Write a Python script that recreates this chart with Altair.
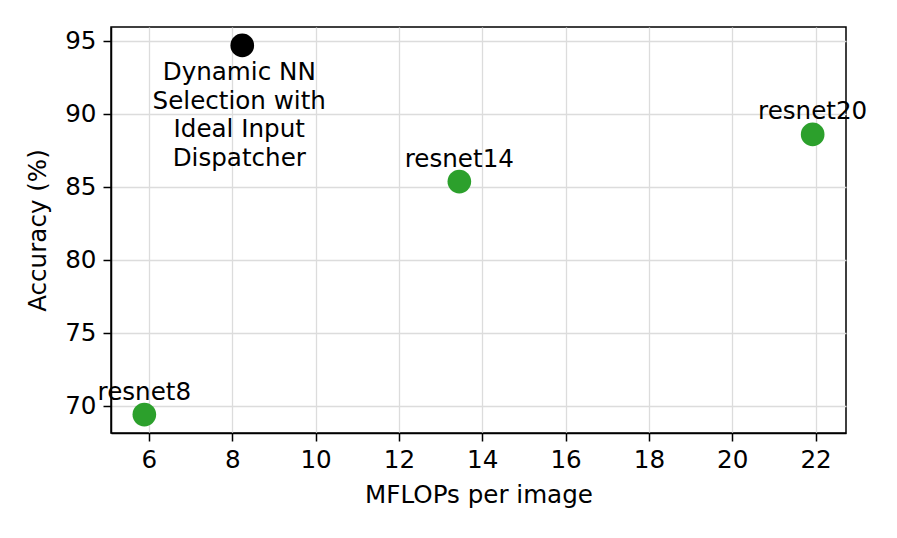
import altair as alt
import pandas as pd

names = ["resnet8", "resnet14", "resnet20", "Dynamic NN\nSelection with\nIdeal Input\nDispatcher"]
groups = ["resnet", "resnet", "resnet", "dynamic"]
mflops = [5.89, 13.45, 21.93, 8.24]
accuracy = [69.43, 85.38, 88.61, 94.70]
x_ticks = [6, 8, 10, 12, 14, 16, 18, 20, 22]
y_ticks = [70, 75, 80, 85, 90, 95]

df = pd.DataFrame({"name": names, "group": groups, "mflops": mflops, "acc": accuracy})

FONT = "DejaVu Sans"
FS = 24.6

x = alt.X("mflops:Q", scale=alt.Scale(domain=[5.09, 22.73], nice=False, zero=False),
          axis=alt.Axis(values=x_ticks, title="MFLOPs per image", format="d"))
y = alt.Y("acc:Q", scale=alt.Scale(domain=[68.17, 95.96], nice=False, zero=False),
          axis=alt.Axis(values=y_ticks, title="Accuracy (%)", format="d"))

base = alt.Chart(df).encode(x=x, y=y)

points = base.mark_point(filled=True, opacity=1, size=560, shape="circle").encode(
    color=alt.Color("group:N", scale=alt.Scale(domain=["resnet", "dynamic"], range=["#2ca02c", "#000000"]), legend=None)
)

res_labels = base.transform_filter(alt.datum.group == "resnet").mark_text(
    font=FONT, fontSize=FS, baseline="alphabetic", align="center", dy=-15, color="black"
).encode(text="name:N")

dyn_label = base.transform_filter(alt.datum.group == "dynamic").mark_text(
    font=FONT, fontSize=FS, baseline="top", align="center", dy=16, dx=-3, lineBreak="\n", lineHeight=28.5, color="black"
).encode(text="name:N")

chart = alt.layer(points, res_labels, dyn_label).properties(
    width=735, height=406,
    autosize=alt.AutoSizeParams(type="none"),
    padding={"left": 103, "top": 19, "right": 30, "bottom": 80},
).configure_view(
    stroke="black", strokeWidth=1.5
).configure_axis(
    grid=True, gridColor="#dcdcdc", gridWidth=1.3,
    domain=True, domainColor="black", domainWidth=1.5,
    ticks=True, tickColor="black", tickWidth=1.5, tickSize=8,
    labelFont=FONT, labelFontSize=FS, labelColor="black", labelPadding=7,
    titleFont=FONT, titleFontSize=FS, titleColor="black", titleFontWeight="normal",
).configure_axisX(titlePadding=12).configure_axisY(titlePadding=14)

chart.save("out.html", embed_options={"renderer": "svg", "actions": False})
